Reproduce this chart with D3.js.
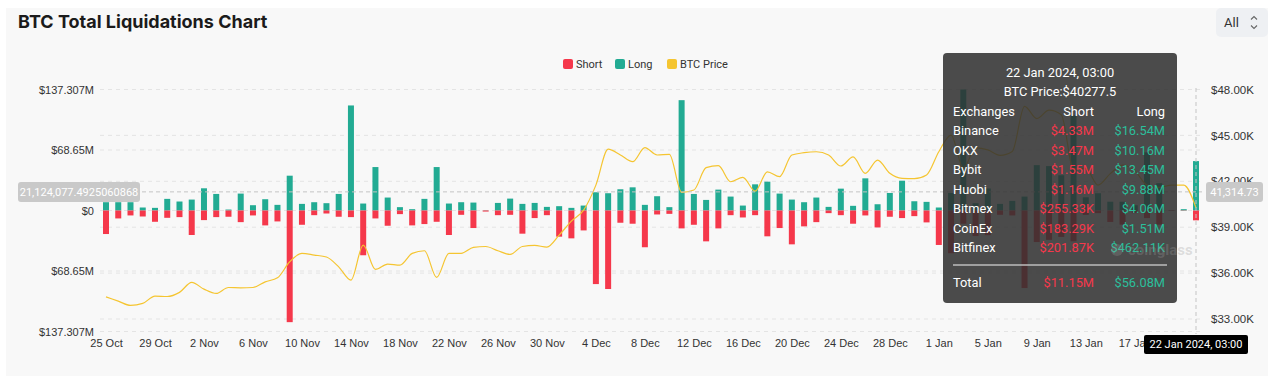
<!DOCTYPE html>
<html>
<head>
<meta charset="utf-8">
<script src="https://cdn.jsdelivr.net/npm/d3@7"></script>
<style>
  html, body { margin: 0; padding: 0; background: #fff; }
  svg { display: block; font-family: Roboto, "Noto Sans", sans-serif; }
</style>
</head>
<body>
<svg id="chart" width="1276" height="376"></svg>
<script>
// Days shown on the category axis (25 Oct 2023 -> 22 Jan 2024)
const firstDay = new Date(2023, 9, 25);
const lastDay = new Date(2024, 0, 22);
const days = d3.timeDay.range(firstDay, d3.timeDay.offset(lastDay, 1));

// Long liquidations per day (millions USD)
const longVals = [
  9.4, 9.4, 9.4, 3.4, 3.0, 13.2, 10.2, 12.4, 25.2, 18.8,
  1.1, 19.2, 6.0, 12.8, 6.4, 39.5, 7.5, 9.4, 8.3, 18.8,
  119.2, 7.9, 49.3, 14.7, 3.8, 1.5, 13.2, 49.3, 7.9, 9.4,
  9.0, 0.3, 8.6, 13.5, 7.5, 8.6, 4.1, 4.9, 3.0, 5.6,
  20.7, 19.6, 24.1, 26.3, 6.4, 16.2, 3.8, 125.2, 18.8, 12.0,
  23.7, 15.8, 5.6, 29.7, 32.7, 19.2, 12.4, 9.4, 14.7, 4.1,
  24.8, 5.3, 36.5, 7.1, 19.9, 33.8, 10.5, 9.8, 3.4, 19.9,
  137.3, 8.3, 25.0, 7.5, 10.9, 15.8, 51.5, 50.4, 40.0, 108.0,
  15.0, 19.6, 10.0, 10.0, 6.0, 66.0, 31.0, 0.5, 1.5, 56.08
];

// Short liquidations per day (millions USD, drawn below zero)
const shortVals = [
  26.7, 9.0, 5.6, 6.8, 12.8, 8.3, 7.5, 27.8, 10.9, 7.5,
  7.1, 13.2, 5.6, 16.9, 12.4, 126.7, 16.2, 5.3, 3.4, 7.1,
  7.5, 50.8, 9.0, 17.3, 4.1, 16.9, 15.4, 12.8, 27.8, 4.9,
  19.9, 1.2, 5.3, 4.9, 26.3, 8.6, 5.3, 29.7, 31.6, 22.6,
  83.5, 89.1, 13.9, 15.0, 41.7, 4.5, 3.8, 20.3, 16.2, 35.0,
  20.3, 5.3, 7.9, 5.3, 29.3, 19.9, 38.4, 18.0, 13.2, 3.0,
  5.3, 15.0, 5.6, 19.2, 7.1, 8.6, 6.4, 13.5, 39.1, 48.5,
  15.0, 29.0, 28.0, 4.9, 5.6, 88.0, 35.8, 33.3, 30.0, 35.0,
  5.0, 3.0, 13.0, 16.0, 3.0, 8.6, 16.0, 0.5, 0.3, 11.15
];

// BTC price per day (USD)
const btcPrice = [
  34450, 34170, 33890, 34020, 34500, 34470, 34740, 35390, 34950, 34670,
  35060, 35040, 35060, 35430, 35690, 36740, 37290, 37180, 37050, 36410,
  35540, 37830, 36240, 36590, 36520, 37290, 37460, 35720, 37290, 37290,
  37680, 37740, 37460, 37220, 37740, 37810, 37700, 38480, 39400, 40120,
  41750, 44100, 43720, 43280, 44200, 43720, 43760, 41280, 41430, 42890,
  43020, 41970, 42260, 41360, 42620, 42300, 43720, 43870, 43930, 43720,
  43000, 43590, 42520, 43390, 42520, 42190, 42170, 42410, 43930, 45020,
  42850, 44180, 44050, 43700, 43950, 46900, 46100, 46650, 46350, 42800,
  42850, 41750, 42500, 43060, 42700, 41750, 41600, 41750, 41750, 40277.5
];

// Axis ticks
const leftTicks = [-137.307, -68.65, 0, 68.65, 137.307];
const rightTicks = [33000, 36000, 39000, 42000, 45000, 48000];
const rightDomain = [32183, 48000];
const xTickStep = 4;

// Tooltip content (hovered day = last one)
const hoverIndex = 89;
const hoverLabel = "22 Jan 2024, 03:00";
const exchanges = ["Binance", "OKX", "Bybit", "Huobi", "Bitmex", "CoinEx", "Bitfinex"];
const exShort = [4.33e6, 3.47e6, 1.55e6, 1.16e6, 255.33e3, 183.29e3, 201.87e3];
const exLong = [16.54e6, 10.16e6, 13.45e6, 9.88e6, 4.06e6, 1.51e6, 462.11e3];
const totalShort = 11.15e6;
const totalLong = 56.08e6;

// Crosshair values
const crossLeftText = "21,124,077.4925060868";
const crossRightValue = 41314.73;

const RED = "#f5384b";
const TEAL = "#22ab93";
const GOLD = "#f5c531";

const svg = d3.select("#chart");
const W = +svg.attr("width");
const H = +svg.attr("height");

// panel background
svg.append("rect")
  .attr("x", 6).attr("y", 8)
  .attr("width", W - 14).attr("height", H - 8)
  .attr("fill", "#f8f8f8");

// scales
const x = d3.scalePoint().domain(d3.range(days.length)).range([106, 1196]);
const yL = d3.scaleLinear().domain([leftTicks[0], leftTicks[leftTicks.length - 1]]).range([331.5, 89.5]);
const yR = d3.scaleLinear().domain(rightDomain).range([331.5, 89.5]);
const gridX0 = 100, gridX1 = 1202;

// grid lines (both axes)
const grid = svg.append("g").attr("stroke", "#e4e4e4").attr("stroke-dasharray", "4,4");
grid.selectAll("line.l").data(leftTicks).enter().append("line")
  .attr("class", "l")
  .attr("x1", gridX0).attr("x2", gridX1)
  .attr("y1", d => yL(d)).attr("y2", d => yL(d));
grid.selectAll("line.r").data(rightTicks).enter().append("line")
  .attr("class", "r")
  .attr("x1", gridX0).attr("x2", gridX1)
  .attr("y1", d => yR(d)).attr("y2", d => yR(d));

// axes
const fmtM = d => d === 0 ? "$0" : "$" + Math.abs(d) + "M";
const axL = svg.append("g")
  .attr("transform", "translate(96,0)")
  .call(d3.axisLeft(yL).tickValues(leftTicks).tickFormat(fmtM).tickSize(0).tickPadding(2));
const axR = svg.append("g")
  .attr("transform", "translate(1208,0)")
  .call(d3.axisRight(yR).tickValues(rightTicks).tickFormat(d => "$" + (d / 1000).toFixed(2) + "K").tickSize(0).tickPadding(3));
const fmtDay = d3.timeFormat("%-d %b");
// last tick (21 Jan) sits under the hover date label, so it is not shown
const xTicks = d3.range(0, days.length, xTickStep).filter(i => x(hoverIndex) - x(i) > 20);
const axB = svg.append("g")
  .attr("transform", "translate(0,336)")
  .call(d3.axisBottom(x)
    .tickValues(xTicks)
    .tickFormat(i => fmtDay(days[i]))
    .tickSize(0).tickPadding(3));
[axL, axR, axB].forEach(a => {
  a.select(".domain").remove();
  a.selectAll("text").attr("fill", "#333").style("font-size", "11px");
});
axR.selectAll("text").style("font-size", "11.5px");

// bars
const barW = 6;
svg.append("g").selectAll("rect")
  .data(longVals).enter().append("rect")
  .attr("x", (d, i) => x(i) - barW / 2)
  .attr("y", d => yL(d))
  .attr("width", barW)
  .attr("height", d => yL(0) - yL(d))
  .attr("fill", TEAL);
svg.append("g").selectAll("rect")
  .data(shortVals).enter().append("rect")
  .attr("x", (d, i) => x(i) - barW / 2)
  .attr("y", yL(0))
  .attr("width", barW)
  .attr("height", d => yL(-d) - yL(0))
  .attr("fill", RED);

// price line
const line = d3.line()
  .x((d, i) => x(i))
  .y(d => yR(d))
  .curve(d3.curveMonotoneX);
svg.append("path")
  .datum(btcPrice)
  .attr("d", line)
  .attr("fill", "none")
  .attr("stroke", GOLD)
  .attr("stroke-width", 1.2);

// crosshair
const crossY = yL(parseFloat(crossLeftText.replace(/,/g, "")) / 1e6);
svg.append("line")
  .attr("x1", gridX0).attr("x2", gridX1)
  .attr("y1", crossY).attr("y2", crossY)
  .attr("stroke", "#c4c4c4").attr("stroke-dasharray", "4,3");
svg.append("line")
  .attr("x1", x(hoverIndex)).attr("x2", x(hoverIndex))
  .attr("y1", 88).attr("y2", 334)
  .attr("stroke", "#c4c4c4").attr("stroke-dasharray", "4,3");

svg.append("rect").attr("x", 18).attr("y", crossY - 10).attr("width", 122).attr("height", 20)
  .attr("rx", 3).attr("fill", "#c9c9c9");
svg.append("text").attr("x", 79).attr("y", crossY).attr("dy", "0.35em")
  .attr("text-anchor", "middle").attr("fill", "#fff").style("font-size", "11px")
  .text(crossLeftText);
svg.append("rect").attr("x", 1206).attr("y", crossY - 10).attr("width", 57).attr("height", 20)
  .attr("rx", 3).attr("fill", "#c9c9c9");
svg.append("text").attr("x", 1234.5).attr("y", crossY).attr("dy", "0.35em")
  .attr("text-anchor", "middle").attr("fill", "#fff").style("font-size", "11px")
  .text(d3.format(",.2f")(crossRightValue));

// date label at the bottom
svg.append("rect").attr("x", x(hoverIndex) - 52).attr("y", 335).attr("width", 104).attr("height", 19)
  .attr("rx", 2).attr("fill", "#000");
svg.append("text").attr("x", x(hoverIndex)).attr("y", 344.5).attr("dy", "0.35em")
  .attr("text-anchor", "middle").attr("fill", "#fff").style("font-size", "11px")
  .text(hoverLabel);

// title
svg.append("text")
  .attr("x", 18).attr("y", 28)
  .style("font-family", "Inter, sans-serif")
  .style("font-size", "18px").style("font-weight", "700")
  .attr("fill", "#1b1b1b")
  .text("BTC Total Liquidations Chart");

// "All" selector
svg.append("rect").attr("x", 1216).attr("y", 8).attr("width", 52).attr("height", 29)
  .attr("rx", 5).attr("fill", "#eef0f3");
svg.append("text").attr("x", 1224).attr("y", 22.5).attr("dy", "0.35em")
  .style("font-size", "13px").attr("fill", "#333").text("All");
svg.append("path")
  .attr("d", "M1251,19.5 l3,-3 l3,3 M1251,25.5 l3,3 l3,-3")
  .attr("fill", "none").attr("stroke", "#666").attr("stroke-width", 1.1);

// legend
const legend = [
  { name: "Short", color: RED, x: 563 },
  { name: "Long", color: TEAL, x: 615 },
  { name: "BTC Price", color: GOLD, x: 667 }
];
const lg = svg.append("g").selectAll("g").data(legend).enter().append("g")
  .attr("transform", d => `translate(${d.x},64)`);
lg.append("rect").attr("x", 0).attr("y", -5).attr("width", 10).attr("height", 10)
  .attr("rx", 2).attr("fill", d => d.color);
lg.append("text").attr("x", 13).attr("dy", "0.35em")
  .style("font-size", "11px").attr("fill", "#333").text(d => d.name);

// tooltip
const fmtMoney = v => v >= 1e6 ? "$" + (v / 1e6).toFixed(2) + "M" : "$" + (v / 1e3).toFixed(2) + "K";
const tip = svg.append("g").attr("transform", "translate(943,53)");
tip.append("rect").attr("width", 234).attr("height", 250).attr("rx", 4)
  .attr("fill", "#2e2e2e").attr("fill-opacity", 0.86);
const tipText = (xx, yy, txt, anchor, color) => tip.append("text")
  .attr("x", xx).attr("y", yy).attr("dy", "0.35em")
  .attr("text-anchor", anchor).attr("fill", color)
  .style("font-size", "12.8px").text(txt);
tipText(117, 20, hoverLabel, "middle", "#fff");
tipText(117, 39, "BTC Price:$" + btcPrice[hoverIndex], "middle", "#fff");
tipText(10, 59, "Exchanges", "start", "#fff");
tipText(151, 59, "Short", "end", "#fff");
tipText(222, 59, "Long", "end", "#fff");
exchanges.forEach((ex, i) => {
  const yy = 78 + i * 19.5;
  tipText(10, yy, ex, "start", "#fff");
  tipText(151, yy, fmtMoney(exShort[i]), "end", RED);
  tipText(222, yy, fmtMoney(exLong[i]), "end", "#2bbf9b");
});
tip.append("line").attr("x1", 10).attr("x2", 224).attr("y1", 212).attr("y2", 212)
  .attr("stroke", "#bdbdbd").attr("stroke-width", 1.5);
tipText(10, 230, "Total", "start", "#fff");
tipText(151, 230, fmtMoney(totalShort), "end", RED);
tipText(222, 230, fmtMoney(totalLong), "end", "#2bbf9b");

// watermark
svg.append("circle").attr("cx", 1117).attr("cy", 250).attr("r", 6)
  .attr("fill", "#9a9a9a").attr("fill-opacity", 0.25);
svg.append("text").attr("x", 1128).attr("y", 255)
  .style("font-size", "15px").style("font-weight", "700")
  .attr("fill", "#9a9a9a").attr("fill-opacity", 0.3)
  .text("coinglass");
</script>
</body>
</html>
